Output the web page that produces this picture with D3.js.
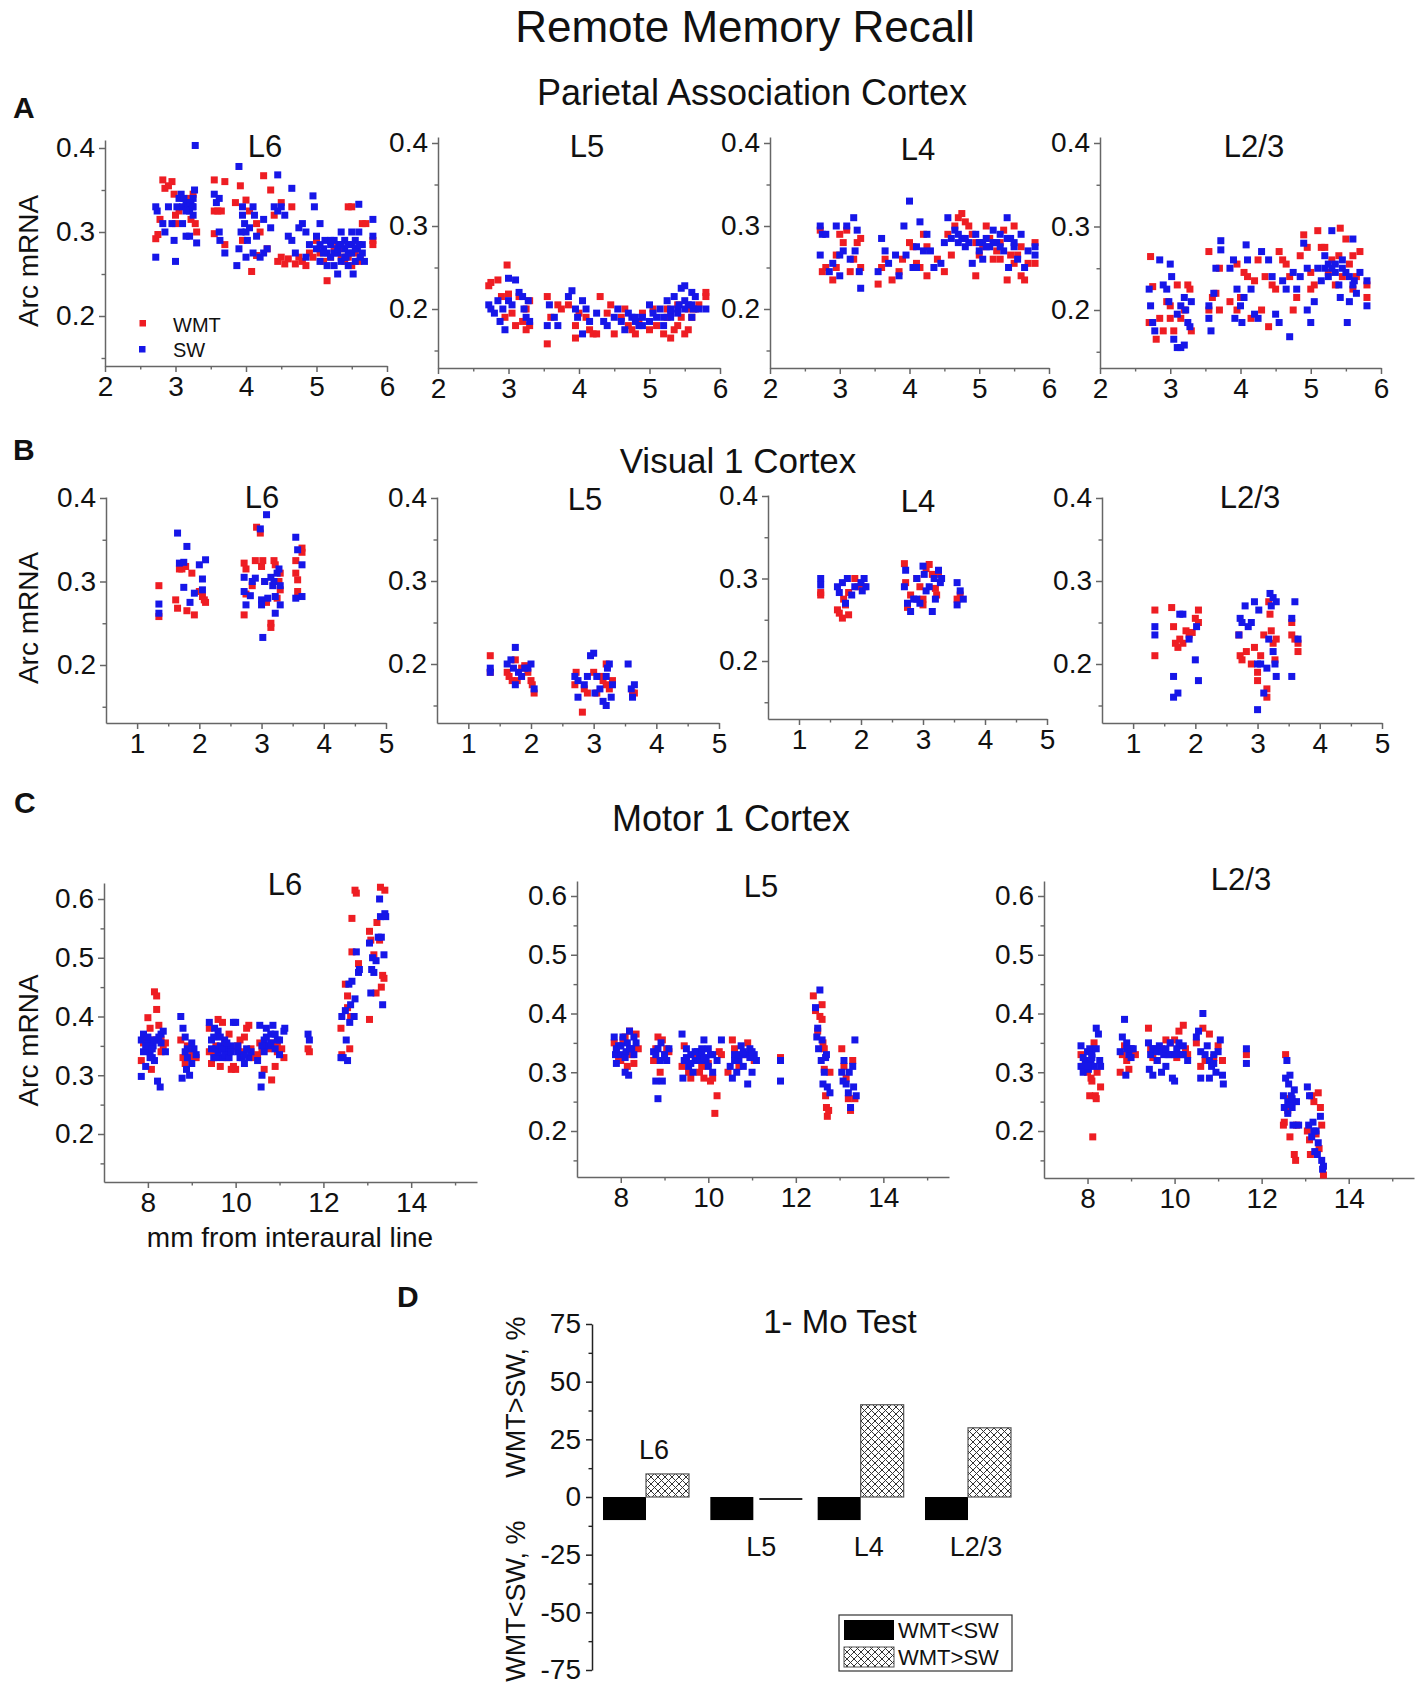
<!DOCTYPE html>
<html><head><meta charset="utf-8">
<script src="https://cdn.jsdelivr.net/npm/d3@7"></script>
<style>
body{margin:0;background:#fff}
svg{display:block}
text{font-family:"Liberation Sans",Arial,Helvetica,sans-serif;fill:#111}
</style>
</head><body>
<svg id="chart" width="1418" height="1695"></svg>
<script>
// ---------------- DATA ----------------
// Panel A: Parietal Association Cortex (x: mm from interaural line, y: Arc mRNA)
const A_L6_WMT=[[2.72,.292],[2.75,.297],[2.78,.315],[2.82,.362],[2.85,.352],[2.9,.355],[2.95,.36],[2.98,.345],[3.0,.32],[3.05,.325],[3.0,.31],[3.15,.33],[3.2,.34],[3.22,.315],[3.28,.31],[3.3,.30],[3.25,.345],[3.55,.362],[3.55,.325],[3.6,.325],[3.65,.325],[3.55,.298],[3.7,.36],[3.7,.285],[3.85,.335],[3.92,.355],[3.95,.29],[4.0,.338],[4.05,.325],[4.08,.253],[4.15,.31],[4.2,.3],[4.15,.272],[4.25,.367],[4.3,.28],[4.35,.35],[4.4,.32],[4.45,.265],[4.5,.27],[4.55,.262],[4.6,.268],[4.65,.33],[4.7,.262],[4.75,.27],[4.8,.265],[4.85,.26],[4.9,.275],[4.95,.27],[5.0,.29],[5.05,.275],[5.1,.265],[5.15,.242],[5.2,.27],[5.25,.28],[5.3,.285],[5.35,.27],[5.4,.265],[5.45,.33],[5.5,.33],[5.5,.26],[5.55,.275],[5.6,.265],[5.62,.27],[5.65,.31],[5.7,.31],[5.8,.29],[5.8,.285],[5.45,.27],[5.35,.28],[4.5,.335]];
const A_L6_SW=[[2.72,.33],[2.74,.325],[2.72,.27],[2.82,.31],[2.85,.30],[2.9,.33],[2.95,.31],[2.98,.29],[3.0,.265],[3.02,.33],[3.05,.34],[3.08,.345],[3.1,.33],[3.12,.34],[3.15,.335],[3.18,.33],[3.2,.325],[3.22,.335],[3.24,.33],[3.25,.34],[3.27,.35],[3.28,.403],[3.2,.295],[3.15,.295],[3.3,.287],[3.1,.31],[3.25,.32],[3.55,.345],[3.58,.335],[3.62,.30],[3.63,.29],[3.7,.275],[3.87,.26],[3.9,.378],[3.93,.30],[3.95,.32],[3.95,.33],[3.98,.31],[4.0,.30],[4.02,.29],[4.0,.27],[3.9,.28],[4.05,.305],[4.1,.33],[4.12,.32],[4.15,.295],[4.2,.27],[4.25,.275],[4.25,.315],[4.35,.305],[4.4,.33],[4.45,.325],[4.45,.368],[4.5,.33],[4.55,.32],[4.6,.295],[4.65,.29],[4.65,.352],[4.7,.275],[4.75,.305],[4.8,.31],[4.85,.30],[4.85,.27],[4.9,.285],[4.95,.343],[4.97,.33],[5.0,.28],[5.0,.295],[5.05,.265],[5.05,.31],[5.1,.28],[5.12,.29],[5.15,.275],[5.15,.26],[5.2,.285],[5.2,.27],[5.25,.29],[5.25,.26],[5.3,.275],[5.3,.25],[5.32,.285],[5.35,.30],[5.35,.265],[5.4,.28],[5.4,.29],[5.42,.27],[5.45,.285],[5.45,.26],[5.5,.30],[5.5,.275],[5.52,.25],[5.55,.29],[5.55,.265],[5.58,.28],[5.6,.333],[5.6,.3],[5.62,.27],[5.65,.285],[5.68,.265],[5.8,.315],[5.8,.295],[4.3,.28],[4.1,.275],[3.62,.34],[5.1,.275],[5.2,.29],[5.25,.275],[5.3,.28],[5.35,.285],[5.4,.27],[5.45,.275],[5.5,.285],[5.55,.28],[5.6,.285],[5.65,.275],[5.05,.285],[3.2,.335],[3.25,.33],[3.15,.325]];
const A_L5_WMT=[[2.72,.228],[2.75,.232],[2.85,.235],[2.98,.253],[2.9,.215],[2.95,.19],[3.0,.218],[3.05,.195],[3.1,.18],[3.2,.185],[3.25,.175],[3.3,.18],[3.3,.21],[3.25,.2],[3.55,.158],[3.55,.215],[3.6,.19],[3.7,.205],[3.75,.2],[3.85,.205],[3.95,.165],[3.95,.18],[4.0,.195],[4.1,.19],[4.15,.175],[4.2,.17],[4.25,.17],[4.3,.215],[4.4,.195],[4.45,.205],[4.5,.17],[4.6,.19],[4.7,.18],[4.75,.175],[4.8,.17],[4.85,.185],[4.9,.195],[5.0,.175],[5.05,.2],[5.1,.18],[5.2,.17],[5.25,.19],[5.3,.165],[5.35,.175],[5.4,.18],[5.45,.19],[5.5,.17],[5.55,.175],[5.6,.19],[5.65,.2],[5.7,.205],[5.8,.215],[5.8,.22],[5.55,.2],[5.4,.205],[5.25,.2],[4.65,.2],[3.15,.215]];
const A_L5_SW=[[2.72,.205],[2.75,.2],[2.8,.195],[2.85,.21],[2.88,.185],[2.92,.2],[2.95,.175],[3.0,.21],[3.0,.237],[3.05,.205],[3.1,.235],[3.15,.22],[3.2,.215],[3.22,.2],[3.25,.19],[3.28,.21],[3.3,.185],[3.55,.18],[3.58,.205],[3.65,.19],[3.7,.18],[3.85,.215],[3.9,.222],[3.95,.2],[3.98,.19],[4.05,.17],[4.05,.21],[4.1,.2],[4.15,.185],[4.25,.195],[4.35,.185],[4.4,.18],[4.5,.19],[4.55,.2],[4.6,.185],[4.65,.175],[4.7,.195],[4.75,.19],[4.8,.185],[4.85,.18],[4.9,.19],[5.0,.205],[5.0,.185],[5.05,.195],[5.1,.19],[5.15,.2],[5.2,.18],[5.25,.21],[5.3,.195],[5.35,.215],[5.4,.2],[5.42,.205],[5.45,.225],[5.5,.228],[5.5,.21],[5.55,.205],[5.6,.22],[5.62,.2],[5.65,.215],[5.7,.2],[5.8,.2],[5.2,.19],[5.3,.2],[5.6,.19],[5.3,.19],[5.4,.195],[5.5,.2],[5.6,.205],[4.8,.19],[4.9,.18]];
const A_L4_WMT=[[2.72,.295],[2.75,.245],[2.8,.25],[2.9,.235],[2.95,.25],[2.95,.265],[3.0,.29],[3.05,.28],[3.1,.295],[3.15,.245],[3.2,.26],[3.25,.28],[3.3,.285],[3.3,.25],[3.55,.23],[3.6,.25],[3.65,.26],[3.75,.235],[3.85,.245],[3.9,.26],[4.0,.28],[4.05,.275],[4.1,.255],[4.15,.25],[4.2,.29],[4.25,.275],[4.25,.24],[4.4,.26],[4.5,.245],[4.55,.29],[4.6,.265],[4.65,.3],[4.7,.31],[4.75,.315],[4.8,.305],[4.85,.3],[4.9,.29],[4.95,.24],[5.0,.265],[5.05,.275],[5.1,.3],[5.15,.285],[5.2,.26],[5.25,.27],[5.3,.28],[5.35,.295],[5.4,.235],[5.45,.265],[5.5,.255],[5.5,.3],[5.55,.265],[5.6,.275],[5.65,.235],[5.7,.255],[5.8,.28],[5.8,.255],[5.6,.24],[5.3,.26],[4.95,.28],[5.2,.28]];
const A_L4_SW=[[2.72,.3],[2.72,.265],[2.75,.29],[2.8,.29],[2.85,.245],[2.9,.255],[2.95,.3],[3.0,.24],[3.0,.265],[3.05,.27],[3.1,.3],[3.15,.26],[3.2,.31],[3.22,.27],[3.25,.295],[3.28,.245],[3.3,.225],[3.55,.245],[3.6,.285],[3.65,.27],[3.7,.255],[3.8,.265],[3.85,.24],[3.92,.3],[3.95,.265],[4.0,.33],[4.05,.25],[4.1,.275],[4.15,.305],[4.2,.27],[4.25,.29],[4.35,.25],[4.45,.255],[4.5,.28],[4.55,.31],[4.6,.285],[4.65,.295],[4.7,.28],[4.75,.285],[4.8,.275],[4.85,.28],[4.9,.255],[4.95,.29],[5.0,.27],[5.05,.28],[5.1,.285],[5.15,.275],[5.2,.295],[5.25,.28],[5.3,.29],[5.35,.27],[5.4,.31],[5.42,.25],[5.45,.285],[5.5,.275],[5.55,.26],[5.6,.29],[5.65,.25],[5.7,.27],[5.8,.275],[5.8,.265],[5.05,.26],[4.1,.25],[4.3,.27],[5.0,.28],[5.1,.275],[5.2,.28],[5.3,.275],[5.4,.285],[5.5,.28],[4.7,.29],[4.8,.285]];
const A_L23_WMT=[[2.72,.264],[2.75,.228],[2.7,.185],[2.8,.165],[2.85,.19],[2.9,.175],[2.95,.21],[3.0,.205],[3.0,.19],[3.05,.175],[3.1,.23],[3.15,.19],[3.2,.2],[3.25,.23],[3.28,.225],[3.3,.175],[3.55,.27],[3.55,.2],[3.6,.215],[3.65,.22],[3.7,.25],[3.7,.2],[3.85,.21],[3.95,.255],[3.95,.2],[4.0,.215],[4.05,.245],[4.1,.24],[4.15,.19],[4.2,.235],[4.25,.26],[4.3,.2],[4.35,.24],[4.4,.18],[4.5,.225],[4.55,.27],[4.6,.26],[4.65,.255],[4.7,.24],[4.75,.2],[4.8,.215],[4.85,.265],[4.9,.29],[4.95,.275],[5.0,.245],[5.05,.23],[5.1,.295],[5.15,.275],[5.2,.275],[5.25,.245],[5.3,.26],[5.35,.23],[5.4,.265],[5.42,.298],[5.45,.24],[5.5,.285],[5.55,.255],[5.6,.265],[5.65,.24],[5.7,.27],[5.8,.23],[5.8,.215],[5.6,.225],[4.45,.23],[5.0,.225]];
const A_L23_SW=[[2.7,.225],[2.72,.205],[2.75,.185],[2.78,.175],[2.85,.26],[2.9,.23],[2.95,.225],[2.98,.21],[3.0,.255],[3.02,.24],[3.05,.165],[3.1,.155],[3.15,.155],[3.2,.158],[3.1,.195],[3.15,.205],[3.2,.215],[3.22,.2],[3.25,.185],[3.28,.18],[3.3,.21],[3.55,.205],[3.55,.19],[3.58,.175],[3.62,.22],[3.65,.25],[3.72,.283],[3.72,.272],[3.85,.25],[3.9,.26],[3.92,.19],[3.95,.225],[4.0,.205],[4.02,.185],[4.05,.215],[4.08,.278],[4.1,.26],[4.15,.225],[4.2,.195],[4.25,.19],[4.3,.27],[4.4,.26],[4.45,.24],[4.5,.195],[4.55,.185],[4.6,.235],[4.65,.225],[4.7,.168],[4.75,.245],[4.8,.225],[4.85,.24],[4.9,.28],[4.95,.2],[4.95,.25],[5.0,.185],[5.05,.21],[5.1,.25],[5.15,.235],[5.2,.265],[5.25,.24],[5.3,.295],[5.35,.255],[5.4,.23],[5.42,.215],[5.45,.26],[5.5,.245],[5.52,.185],[5.55,.21],[5.6,.285],[5.62,.235],[5.65,.22],[5.7,.245],[5.8,.235],[5.8,.205],[5.3,.25],[5.55,.24],[5.2,.25],[5.25,.255],[5.35,.245],[5.45,.25],[5.6,.23]];
// Panel B: Visual 1 Cortex
const B_L6_WMT=[[1.35,.295],[1.35,.258],[1.62,.278],[1.65,.268],[1.68,.315],[1.72,.315],[1.78,.318],[1.8,.265],[1.88,.31],[1.92,.26],[2.0,.288],[2.05,.282],[2.1,.275],[2.08,.278],[2.72,.322],[2.75,.315],[2.72,.26],[2.75,.285],[2.85,.295],[2.9,.325],[2.92,.365],[2.98,.358],[3.0,.318],[3.02,.325],[3.05,.3],[3.08,.275],[3.15,.25],[3.15,.245],[3.2,.325],[3.22,.32],[3.25,.28],[3.28,.3],[3.3,.31],[3.55,.325],[3.55,.31],[3.58,.302],[3.58,.288],[3.65,.34],[3.65,.335],[3.3,.29]];
const B_L6_SW=[[1.35,.273],[1.35,.262],[1.65,.358],[1.68,.322],[1.75,.323],[1.75,.293],[1.8,.342],[1.85,.275],[1.92,.286],[2.0,.32],[2.05,.303],[2.05,.29],[2.1,.326],[2.72,.305],[2.72,.288],[2.75,.272],[2.82,.283],[2.85,.3],[2.9,.304],[2.98,.363],[3.0,.278],[3.0,.272],[3.02,.233],[3.05,.3],[3.08,.38],[3.1,.28],[3.15,.305],[3.18,.295],[3.22,.282],[3.22,.262],[3.25,.31],[3.28,.315],[3.3,.272],[3.3,.295],[3.55,.353],[3.55,.28],[3.58,.338],[3.65,.32],[3.65,.282],[3.2,.3]];
const B_L5_WMT=[[1.35,.21],[1.35,.19],[1.62,.19],[1.65,.185],[1.7,.18],[1.75,.205],[1.78,.18],[1.85,.195],[1.9,.198],[1.95,.19],[2.0,.18],[2.02,.175],[2.05,.165],[2.7,.175],[2.72,.19],[2.82,.142],[2.85,.17],[2.9,.165],[3.0,.19],[3.05,.165],[3.15,.18],[3.2,.175],[3.2,.2],[3.25,.17],[3.3,.18],[3.62,.165],[3.65,.165],[3.1,.185]];
const B_L5_SW=[[1.35,.195],[1.35,.19],[1.62,.2],[1.68,.205],[1.72,.195],[1.75,.22],[1.75,.175],[1.8,.19],[1.85,.185],[1.9,.195],[1.95,.195],[2.0,.2],[2.05,.17],[2.7,.185],[2.75,.16],[2.75,.18],[2.85,.175],[2.9,.185],[2.95,.21],[3.0,.213],[3.02,.165],[3.05,.185],[3.1,.17],[3.15,.155],[3.2,.15],[3.22,.195],[3.25,.2],[3.28,.16],[3.3,.175],[3.55,.2],[3.6,.17],[3.62,.16],[3.65,.175],[3.2,.185]];
const B_L4_WMT=[[1.35,.283],[1.35,.28],[1.62,.262],[1.65,.258],[1.7,.252],[1.72,.275],[1.75,.268],[1.8,.283],[1.8,.256],[1.9,.3],[1.95,.29],[2.05,.29],[2.7,.318],[2.72,.295],[2.75,.265],[2.8,.28],[2.9,.3],[2.95,.29],[3.0,.268],[3.05,.312],[3.1,.317],[3.15,.305],[3.2,.288],[3.22,.28],[3.25,.305],[3.55,.275],[3.6,.28],[3.0,.275]];
const B_L4_SW=[[1.35,.3],[1.35,.292],[1.62,.29],[1.65,.283],[1.7,.295],[1.75,.27],[1.78,.3],[1.85,.28],[1.9,.29],[2.0,.295],[2.02,.285],[2.05,.3],[2.08,.29],[2.7,.29],[2.72,.31],[2.75,.27],[2.8,.26],[2.85,.275],[2.9,.3],[2.95,.27],[3.0,.315],[3.02,.305],[3.05,.285],[3.1,.29],[3.15,.26],[3.18,.3],[3.2,.275],[3.25,.31],[3.28,.295],[3.3,.3],[3.55,.295],[3.55,.268],[3.6,.285],[3.65,.275],[2.9,.275]];
const B_L23_WMT=[[1.35,.265],[1.35,.21],[1.62,.268],[1.65,.245],[1.68,.225],[1.72,.22],[1.75,.23],[1.8,.225],[1.85,.24],[1.9,.235],[1.95,.238],[2.0,.255],[2.05,.265],[2.05,.25],[2.7,.235],[2.72,.21],[2.75,.205],[2.82,.215],[2.9,.2],[2.95,.22],[3.0,.19],[3.0,.18],[3.05,.21],[3.1,.235],[3.15,.17],[3.18,.275],[3.2,.26],[3.22,.24],[3.25,.225],[3.28,.205],[3.3,.23],[3.55,.25],[3.55,.235],[3.6,.23],[3.65,.215],[3.65,.225],[3.15,.16]];
const B_L23_SW=[[1.35,.245],[1.35,.235],[1.65,.185],[1.65,.16],[1.72,.165],[1.75,.26],[1.8,.26],[1.9,.23],[2.0,.205],[2.02,.245],[2.05,.18],[2.7,.235],[2.72,.255],[2.75,.25],[2.8,.27],[2.85,.245],[2.9,.25],[2.95,.275],[3.0,.145],[3.0,.2],[3.02,.265],[3.05,.2],[3.1,.165],[3.15,.195],[3.18,.23],[3.2,.285],[3.22,.27],[3.25,.215],[3.28,.2],[3.3,.275],[3.3,.185],[3.55,.255],[3.55,.185],[3.6,.275],[3.65,.23],[3.25,.28]];
// Panel C: Motor 1 Cortex
const C_L6_WMT=[[7.85,.325],[7.9,.355],[7.95,.36],[8.0,.398],[8.05,.38],[8.08,.31],[8.1,.36],[8.15,.442],[8.2,.435],[8.2,.412],[8.25,.385],[8.3,.36],[8.35,.345],[8.4,.355],[8.75,.36],[8.8,.33],[8.85,.32],[8.9,.35],[8.95,.33],[9.0,.34],[9.1,.33],[9.4,.38],[9.45,.32],[9.5,.34],[9.6,.395],[9.65,.315],[9.7,.39],[9.75,.355],[9.8,.33],[9.85,.37],[9.9,.31],[9.95,.315],[10.0,.31],[10.05,.35],[10.1,.36],[10.2,.365],[10.25,.38],[10.3,.385],[10.35,.345],[10.5,.335],[10.55,.355],[10.65,.31],[10.7,.35],[10.75,.345],[10.82,.292],[10.85,.355],[10.9,.315],[10.95,.34],[11.05,.345],[11.1,.33],[11.65,.345],[11.68,.34],[12.4,.38],[12.42,.335],[12.5,.455],[12.55,.435],[12.6,.345],[12.62,.4],[12.65,.51],[12.65,.567],[12.72,.615],[12.75,.61],[12.8,.49],[13.05,.395],[13.05,.545],[13.08,.53],[13.15,.505],[13.2,.44],[13.22,.56],[13.28,.53],[13.3,.62],[13.32,.45],[13.35,.47],[13.38,.465],[13.4,.615],[12.55,.415],[8.0,.35],[8.3,.34],[9.4,.34],[9.55,.35],[9.9,.345],[10.15,.34],[10.4,.33],[10.6,.345],[10.95,.35]];
const C_L6_SW=[[7.85,.36],[7.85,.298],[7.9,.37],[7.95,.315],[8.0,.355],[8.05,.34],[8.1,.33],[8.12,.35],[8.15,.325],[8.2,.36],[8.22,.29],[8.28,.28],[8.3,.37],[8.35,.375],[8.4,.34],[8.75,.4],[8.78,.295],[8.8,.38],[8.85,.365],[8.88,.31],[8.9,.345],[8.95,.3],[9.0,.32],[9.05,.345],[9.1,.335],[9.4,.39],[9.45,.36],[9.5,.33],[9.52,.38],[9.55,.345],[9.6,.375],[9.65,.35],[9.7,.33],[9.75,.36],[9.8,.345],[9.85,.34],[9.9,.35],[9.95,.39],[10.0,.39],[10.05,.34],[10.1,.33],[10.15,.33],[10.2,.32],[10.3,.33],[10.35,.34],[10.5,.325],[10.55,.385],[10.58,.28],[10.6,.3],[10.65,.36],[10.7,.38],[10.75,.35],[10.8,.37],[10.85,.385],[10.9,.345],[10.95,.36],[11.0,.335],[11.1,.375],[11.12,.38],[11.65,.37],[11.68,.36],[12.4,.33],[12.42,.4],[12.45,.33],[12.5,.41],[12.52,.36],[12.55,.325],[12.58,.455],[12.6,.39],[12.62,.42],[12.65,.46],[12.7,.4],[12.72,.43],[12.75,.51],[12.8,.475],[12.82,.48],[13.05,.525],[13.08,.44],[13.1,.48],[13.12,.5],[13.15,.475],[13.2,.495],[13.25,.535],[13.28,.6],[13.3,.57],[13.32,.535],[13.35,.42],[13.38,.505],[13.4,.575],[13.42,.57],[7.9,.34],[7.95,.35],[8.0,.365],[8.05,.33],[8.1,.345],[8.15,.36],[8.25,.365],[8.3,.355],[8.85,.34],[8.9,.33],[9.0,.355],[9.45,.345],[9.5,.365],[9.55,.33],[9.6,.34],[9.65,.365],[9.7,.345],[9.75,.335],[9.8,.355],[9.85,.33],[9.9,.34],[10.05,.35],[10.2,.335],[10.25,.345],[10.6,.35],[10.65,.34],[10.7,.365],[10.8,.355],[10.9,.37],[11.0,.36]];
const C_L5_WMT=[[7.85,.35],[7.9,.34],[7.95,.325],[8.0,.32],[8.05,.355],[8.1,.36],[8.15,.31],[8.2,.37],[8.25,.33],[8.3,.315],[8.35,.365],[8.4,.34],[8.75,.32],[8.8,.34],[8.85,.36],[8.9,.3],[8.95,.355],[9.0,.33],[9.05,.34],[9.1,.335],[9.4,.31],[9.45,.345],[9.5,.32],[9.55,.3],[9.6,.29],[9.7,.33],[9.8,.3],[9.85,.31],[9.9,.29],[10.0,.315],[10.05,.285],[10.1,.29],[10.15,.23],[10.2,.26],[10.25,.335],[10.3,.33],[10.45,.3],[10.55,.355],[10.6,.34],[10.7,.31],[10.8,.33],[10.9,.35],[10.95,.335],[11.05,.32],[11.65,.325],[12.4,.43],[12.45,.405],[12.5,.37],[12.55,.395],[12.6,.415],[12.62,.35],[12.65,.34],[12.68,.26],[12.7,.24],[12.72,.225],[12.75,.235],[12.78,.3],[13.05,.34],[13.1,.31],[13.15,.29],[13.2,.255],[13.25,.235],[13.3,.32],[13.35,.255],[12.6,.39],[12.65,.305]];
const C_L5_SW=[[7.85,.36],[7.88,.33],[7.9,.315],[7.95,.345],[8.0,.33],[8.05,.36],[8.1,.3],[8.12,.335],[8.15,.35],[8.18,.295],[8.2,.37],[8.25,.34],[8.3,.33],[8.35,.35],[8.75,.335],[8.8,.285],[8.85,.255],[8.9,.32],[8.92,.35],[8.95,.285],[9.0,.33],[9.05,.32],[9.1,.34],[9.4,.365],[9.42,.29],[9.45,.32],[9.5,.34],[9.55,.31],[9.6,.33],[9.65,.3],[9.7,.32],[9.75,.335],[9.8,.325],[9.85,.34],[9.9,.355],[9.95,.32],[10.0,.31],[10.05,.33],[10.1,.3],[10.2,.32],[10.3,.355],[10.5,.31],[10.55,.29],[10.6,.33],[10.65,.3],[10.7,.32],[10.75,.345],[10.8,.31],[10.85,.33],[10.9,.28],[10.95,.34],[11.0,.3],[11.05,.33],[11.1,.32],[11.65,.32],[11.65,.285],[12.45,.41],[12.48,.36],[12.5,.375],[12.52,.34],[12.55,.44],[12.58,.32],[12.6,.355],[12.62,.28],[12.65,.3],[12.68,.325],[12.7,.33],[12.72,.275],[12.78,.265],[13.05,.3],[13.08,.285],[13.1,.32],[13.15,.28],[13.2,.265],[13.22,.3],[13.25,.24],[13.3,.31],[13.32,.275],[13.35,.355],[13.38,.26],[7.9,.34],[8.0,.345],[8.1,.325],[8.2,.34],[8.3,.36],[8.8,.33],[8.85,.34],[9.0,.325],[9.5,.325],[9.6,.315],[9.7,.335],[9.8,.32],[9.85,.33],[9.9,.325],[10.0,.34],[10.1,.33],[10.6,.32],[10.7,.33],[10.8,.335],[10.95,.325],[11.0,.335]];
const C_L23_WMT=[[7.85,.33],[7.9,.31],[7.95,.32],[8.0,.3],[8.05,.26],[8.08,.29],[8.1,.285],[8.12,.19],[8.15,.35],[8.18,.26],[8.2,.255],[8.22,.3],[8.3,.275],[8.75,.3],[8.8,.33],[8.85,.345],[8.9,.32],[8.95,.305],[9.0,.34],[9.1,.33],[9.4,.375],[9.45,.34],[9.5,.325],[9.6,.32],[9.7,.34],[9.8,.355],[9.9,.35],[10.0,.355],[10.05,.325],[10.1,.37],[10.2,.38],[10.25,.34],[10.3,.33],[10.5,.35],[10.6,.31],[10.65,.375],[10.7,.32],[10.8,.365],[10.9,.325],[11.0,.345],[11.1,.32],[11.65,.33],[12.5,.21],[12.52,.215],[12.55,.33],[12.6,.235],[12.65,.19],[12.7,.25],[12.75,.16],[12.78,.15],[12.8,.21],[13.05,.2],[13.1,.185],[13.12,.16],[13.15,.26],[13.2,.25],[13.25,.195],[13.3,.265],[13.32,.17],[13.35,.24],[13.38,.21],[13.42,.125],[12.62,.255]];
const C_L23_SW=[[7.85,.31],[7.85,.345],[7.9,.3],[7.95,.32],[8.0,.335],[8.02,.305],[8.05,.34],[8.08,.315],[8.1,.325],[8.15,.31],[8.2,.375],[8.25,.365],[8.28,.32],[8.3,.31],[8.75,.335],[8.8,.36],[8.85,.39],[8.88,.295],[8.9,.35],[8.95,.33],[9.0,.34],[9.05,.34],[9.4,.35],[9.42,.305],[9.45,.33],[9.5,.295],[9.55,.34],[9.6,.32],[9.65,.345],[9.7,.3],[9.75,.33],[9.8,.31],[9.85,.33],[9.9,.35],[9.95,.29],[10.0,.285],[10.05,.34],[10.1,.35],[10.15,.33],[10.2,.345],[10.3,.32],[10.5,.36],[10.55,.37],[10.6,.29],[10.65,.4],[10.7,.33],[10.75,.345],[10.8,.29],[10.85,.31],[10.9,.33],[10.95,.3],[11.0,.335],[11.05,.355],[11.1,.295],[11.12,.28],[11.65,.34],[11.65,.315],[12.5,.26],[12.52,.24],[12.55,.29],[12.58,.32],[12.6,.23],[12.62,.28],[12.65,.295],[12.68,.26],[12.7,.24],[12.72,.21],[12.75,.27],[12.8,.25],[12.85,.21],[13.05,.275],[13.08,.21],[13.1,.26],[13.15,.19],[13.18,.215],[13.2,.2],[13.22,.165],[13.25,.2],[13.28,.16],[13.3,.18],[13.35,.225],[13.38,.15],[13.4,.135],[13.42,.14],[7.9,.325],[8.0,.31],[8.1,.33],[8.2,.34],[8.9,.34],[9.0,.325],[9.5,.34],[9.6,.335],[9.7,.335],[9.8,.34],[9.9,.33],[10.0,.33],[10.2,.33],[10.6,.335],[10.8,.32],[10.9,.315],[12.6,.25],[12.65,.245],[12.7,.255]];
// Panel D: 1- Mo Test
const D_CATS=["L6","L5","L4","L2/3"];
const D_WMT_LT_SW=[-10,-10,-10,-10];
const D_WMT_GT_SW=[10,0,40,30];
const D_TICKS=[-75,-50,-25,0,25,50,75];
// tick labels
const TICKS_A_X=[2,3,4,5,6], TICKS_B_X=[1,2,3,4,5], TICKS_C_X=[8,10,12,14];
const TICKS_AB_Y=[0.2,0.3,0.4], TICKS_C_Y=[0.2,0.3,0.4,0.5,0.6];

// ---------------- DRAW ----------------
const RED="#ee1d23", BLUE="#1616e8", AX="#666";
const FONT='"Liberation Sans",Arial,Helvetica,sans-serif';
const svg=d3.select("#chart");

function styleAxis(g,col,w){
  g.attr("font-family",FONT).attr("font-size",28);
  g.selectAll(".domain").attr("stroke",col).attr("stroke-width",w);
  g.selectAll(".tick line").attr("stroke",col).attr("stroke-width",w);
  g.selectAll(".tick text").attr("fill","#111");
}
function text(x,y,s,size,opts={}){
  const t=svg.append("text").attr("x",x).attr("y",y).attr("font-size",size).attr("font-family",FONT)
    .attr("text-anchor",opts.anchor||"middle").text(s);
  if(opts.bold) t.attr("font-weight","bold");
  if(opts.rot) t.attr("transform",`rotate(-90,${x},${y})`);
  return t;
}

const panels=[
 // row A
 {wmt:A_L6_WMT,sw:A_L6_SW,xd:[2,6],xr:[105,387],yref:[0.2,0.4],ypx:[316,148],yb:366,yt:140,xt:TICKS_A_X,xm:[2.5,3.5,4.5,5.5],yt2:TICKS_AB_Y,ym:[0.15,0.25,0.35],title:"L6",tx:265,ty:157,ylab:true},
 {wmt:A_L5_WMT,sw:A_L5_SW,xd:[2,6],xr:[438,720],yref:[0.2,0.4],ypx:[309,143],yb:368,yt:137,xt:TICKS_A_X,xm:[2.5,3.5,4.5,5.5],yt2:TICKS_AB_Y,ym:[0.15,0.25,0.35],title:"L5",tx:587,ty:157},
 {wmt:A_L4_WMT,sw:A_L4_SW,xd:[2,6],xr:[770,1049],yref:[0.2,0.4],ypx:[309,143],yb:368,yt:137,xt:TICKS_A_X,xm:[2.5,3.5,4.5,5.5],yt2:TICKS_AB_Y,ym:[0.15,0.25,0.35],title:"L4",tx:918,ty:160},
 {wmt:A_L23_WMT,sw:A_L23_SW,xd:[2,6],xr:[1100,1381],yref:[0.2,0.4],ypx:[310,143],yb:368,yt:137,xt:TICKS_A_X,xm:[2.5,3.5,4.5,5.5],yt2:TICKS_AB_Y,ym:[0.15,0.25,0.35],title:"L2/3",tx:1254,ty:157},
 // row B
 {wmt:B_L6_WMT,sw:B_L6_SW,xd:[0.5,5],xr:[106,386],yref:[0.2,0.4],ypx:[665,498],yb:723,yt:497,xt:TICKS_B_X,xm:[1.5,2.5,3.5,4.5],yt2:TICKS_AB_Y,ym:[0.15,0.25,0.35],title:"L6",tx:262,ty:508,ylab:true},
 {wmt:B_L5_WMT,sw:B_L5_SW,xd:[0.5,5],xr:[437,719],yref:[0.2,0.4],ypx:[664,498],yb:723,yt:497,xt:TICKS_B_X,xm:[1.5,2.5,3.5,4.5],yt2:TICKS_AB_Y,ym:[0.15,0.25,0.35],title:"L5",tx:585,ty:510},
 {wmt:B_L4_WMT,sw:B_L4_SW,xd:[0.5,5],xr:[768,1047],yref:[0.2,0.4],ypx:[661,496],yb:719,yt:495,xt:TICKS_B_X,xm:[1.5,2.5,3.5,4.5],yt2:TICKS_AB_Y,ym:[0.15,0.25,0.35],title:"L4",tx:918,ty:512},
 {wmt:B_L23_WMT,sw:B_L23_SW,xd:[0.5,5],xr:[1102,1382],yref:[0.2,0.4],ypx:[664,498],yb:723,yt:497,xt:TICKS_B_X,xm:[1.5,2.5,3.5,4.5],yt2:TICKS_AB_Y,ym:[0.15,0.25,0.35],title:"L2/3",tx:1250,ty:508},
 // row C
 {wmt:C_L6_WMT,sw:C_L6_SW,xd:[7,15.5],xr:[104,477],yref:[0.2,0.6],ypx:[1134,899],yb:1182,yt:883,xt:TICKS_C_X,xm:[9,11,13,15],yt2:TICKS_C_Y,ym:[0.15,0.25,0.35,0.45,0.55],title:"L6",tx:285,ty:895,ylab:true,xlab:true},
 {wmt:C_L5_WMT,sw:C_L5_SW,xd:[7,15.5],xr:[577,949],yref:[0.2,0.6],ypx:[1131,896],yb:1177,yt:881,xt:TICKS_C_X,xm:[9,11,13,15],yt2:TICKS_C_Y,ym:[0.15,0.25,0.35,0.45,0.55],title:"L5",tx:761,ty:897},
 {wmt:C_L23_WMT,sw:C_L23_SW,xd:[7,15.5],xr:[1044,1414],yref:[0.2,0.6],ypx:[1131,896],yb:1178,yt:881,xt:TICKS_C_X,xm:[9,11,13,15],yt2:TICKS_C_Y,ym:[0.15,0.25,0.35,0.45,0.55],title:"L2/3",tx:1241,ty:890}
];

panels.forEach(p=>{
  const x=d3.scaleLinear().domain(p.xd).range(p.xr);
  const yr=d3.scaleLinear().domain(p.yref).range(p.ypx);
  const y=d3.scaleLinear().domain([yr.invert(p.yb),yr.invert(p.yt)]).range([p.yb,p.yt]);
  const g=svg.append("g");
  g.append("g").attr("transform",`translate(0,${p.yb})`)
    .call(d3.axisBottom(x).tickValues(p.xm).tickSize(3.5).tickFormat(""))
    .call(s=>{styleAxis(s,AX,1.4);s.select(".domain").remove();});
  g.append("g").attr("transform",`translate(${p.xr[0]},0)`)
    .call(d3.axisLeft(y).tickValues(p.ym).tickSize(3.5).tickFormat(""))
    .call(s=>{styleAxis(s,AX,1.4);s.select(".domain").remove();});
  g.append("g").attr("transform",`translate(0,${p.yb})`)
    .call(d3.axisBottom(x).tickValues(p.xt).tickSize(6).tickSizeOuter(0).tickPadding(4).tickFormat(d=>String(d)))
    .call(s=>styleAxis(s,AX,1.5));
  g.append("g").attr("transform",`translate(${p.xr[0]},0)`)
    .call(d3.axisLeft(y).tickValues(p.yt2).tickSize(6).tickSizeOuter(0).tickPadding(4).tickFormat(d3.format(".1f")))
    .call(s=>styleAxis(s,AX,1.5));
  const sz=7;
  g.append("g").selectAll("rect").data(p.wmt).join("rect")
    .attr("x",d=>x(d[0])-sz/2).attr("y",d=>y(d[1])-sz/2).attr("width",sz).attr("height",sz).attr("fill",RED);
  g.append("g").selectAll("rect").data(p.sw).join("rect")
    .attr("x",d=>x(d[0])-sz/2).attr("y",d=>y(d[1])-sz/2).attr("width",sz).attr("height",sz).attr("fill",BLUE);
  text(p.tx,p.ty,p.title,31);
  if(p.ylab) text(38,(p.yb+p.yt)/2+8,"Arc mRNA",28,{rot:true});
  if(p.xlab) text(290,1247,"mm from interaural line",28);
});

// legend in A-L6
svg.append("rect").attr("x",139.5).attr("y",320).attr("width",6.5).attr("height",6.5).attr("fill",RED);
svg.append("rect").attr("x",139).attr("y",346).attr("width",6.5).attr("height",6.5).attr("fill",BLUE);
text(173,332,"WMT",20,{anchor:"start"});
text(173,357,"SW",20,{anchor:"start"});

// titles
text(745,42,"Remote Memory Recall",44);
text(752,105,"Parietal Association Cortex",36);
text(738,473,"Visual 1 Cortex",35);
text(731,831,"Motor 1 Cortex",36);
text(13,118,"A",30,{anchor:"start",bold:true});
text(13,460,"B",30,{anchor:"start",bold:true});
text(14,813,"C",30,{anchor:"start",bold:true});
text(397,1307,"D",30,{anchor:"start",bold:true});

// ---------------- Panel D ----------------
const defs=svg.append("defs");
const pat=defs.append("pattern").attr("id","xhatch").attr("patternUnits","userSpaceOnUse").attr("width",7).attr("height",7);
pat.append("rect").attr("width",7).attr("height",7).attr("fill","#fff");
pat.append("path").attr("d","M0,0L7,7M7,0L0,7").attr("stroke","#333").attr("stroke-width",1);

const yD=d3.scaleLinear().domain([-75,75]).range([1670,1324]);
const xD=d3.scalePoint().domain(D_CATS).range([646,968]);
const bw=43;
const gD=svg.append("g");
gD.append("g").attr("transform","translate(592,0)")
  .call(d3.axisLeft(yD).tickValues([-62.5,-37.5,-12.5,12.5,37.5,62.5]).tickSize(3.5).tickFormat(""))
  .call(s=>{styleAxis(s,"#222",1.4);s.select(".domain").remove();});
gD.append("g").attr("transform","translate(592,0)")
  .call(d3.axisLeft(yD).tickValues(D_TICKS).tickSize(6).tickSizeOuter(0).tickPadding(5).tickFormat(d=>String(d)))
  .call(s=>styleAxis(s,"#222",1.5));
const dData=D_CATS.map((c,i)=>({c,lt:D_WMT_LT_SW[i],gt:D_WMT_GT_SW[i]}));
gD.selectAll("rect.lt").data(dData).join("rect").attr("class","lt")
  .attr("x",d=>xD(d.c)-bw).attr("width",bw)
  .attr("y",d=>yD(Math.max(0,d.lt))).attr("height",d=>Math.abs(yD(d.lt)-yD(0)))
  .attr("fill","#000");
// WMT>SW bars (zero value drawn as a thin dark line)
gD.selectAll("rect.gt").data(dData).join("rect").attr("class","gt")
  .attr("x",d=>xD(d.c)+(d.gt===0?6:0)).attr("width",bw)
  .attr("y",d=>d.gt===0?yD(0)+1:yD(d.gt)).attr("height",d=>d.gt===0?2:Math.abs(yD(d.gt)-yD(0)))
  .attr("fill",d=>d.gt===0?"#222":"url(#xhatch)")
  .attr("stroke",d=>d.gt===0?"none":"#555").attr("stroke-width",1.2);
const labelAbove=[true,false,false,false];
dData.forEach((d,i)=>{
  text(xD(d.c)+8, labelAbove[i]?yD(d.gt+6.5):yD(-25.5), d.c, 27);
});
text(840,1333,"1- Mo Test",33);
text(525,1397,"WMT>SW, %",27,{rot:true});
text(525,1601,"WMT<SW, %",27,{rot:true});
// legend D
svg.append("rect").attr("x",839).attr("y",1615).attr("width",173).attr("height",56).attr("fill","#fff").attr("stroke","#333").attr("stroke-width",1.2);
svg.append("rect").attr("x",844).attr("y",1620).attr("width",50).attr("height",20).attr("fill","#000");
svg.append("rect").attr("x",844).attr("y",1647).attr("width",50).attr("height",20).attr("fill","url(#xhatch)").attr("stroke","#555").attr("stroke-width",1);
text(898,1638,"WMT<SW",22,{anchor:"start"});
text(898,1665,"WMT>SW",22,{anchor:"start"});
</script>
</body></html>
